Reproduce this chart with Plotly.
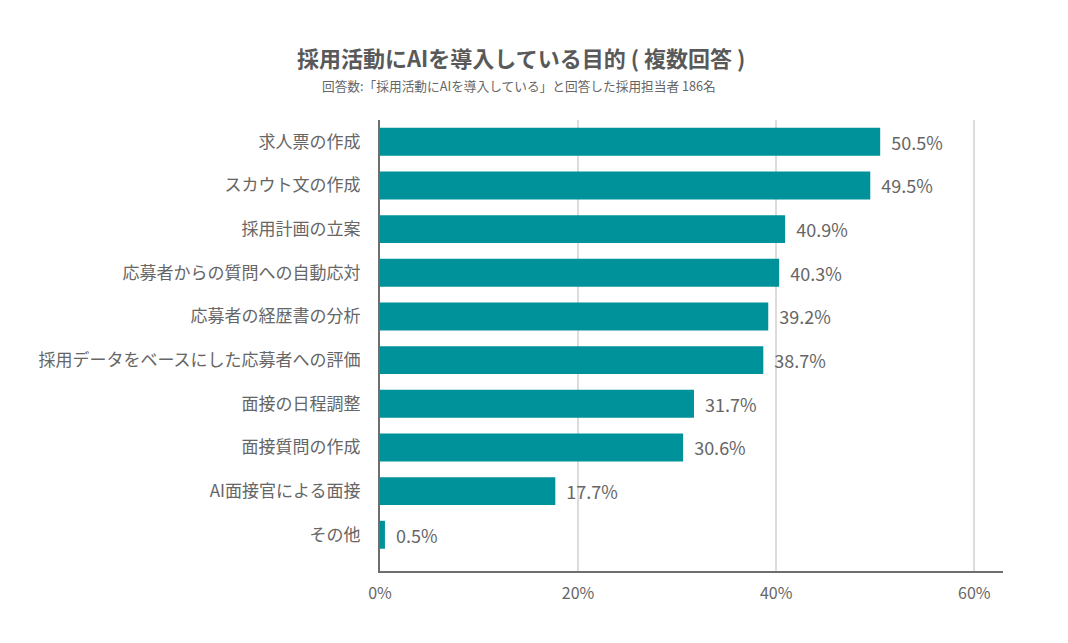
import plotly.graph_objects as go


# 回答数: 採用担当者 186名
cats = ['求人票の作成', 'スカウト文の作成', '採用計画の立案', '応募者からの質問への自動応対',
        '応募者の経歴書の分析', '採用データをベースにした応募者への評価', '面接の日程調整',
        '面接質問の作成', 'AI面接官による面接', 'その他']
vals = [50.5, 49.5, 40.9, 40.3, 39.2, 38.7, 31.7, 30.6, 17.7, 0.5]
xTicks = [0, 20, 40, 60]

font = 'Noto Sans CJK JP'; grey = '#666666'; teal = '#00929B'
W = 1068; H = 643


def main():
    fig = go.Figure()
    fig.add_trace(go.Bar(x=vals, y=cats, orientation='h', width=0.64, marker=dict(color=teal, line_width=0),
                         text=['\u00a0\u00a0{:.1f}%'.format(v) for v in vals], textposition='outside',
                         textfont=dict(size=18, color=grey, family=font), cliponaxis=False))

    fig.update_xaxes(range=[0, 62.9], tickvals=xTicks, ticktext=['{}%'.format(t) for t in xTicks],
                     showgrid=True, gridcolor='#dcdcdc', gridwidth=2, zeroline=False, automargin=False,
                     showline=True, linecolor='#6e6e6e', linewidth=2, ticks='outside', ticklen=7,
                     tickcolor='rgba(0,0,0,0)', tickfont=dict(size=16, color=grey))
    fig.update_yaxes(categoryorder='array', categoryarray=cats, range=[9.83, -0.5], automargin=False,
                     showline=True, linecolor='#6e6e6e', linewidth=2, ticks='outside', ticklen=14,
                     tickcolor='rgba(0,0,0,0)', tickfont=dict(size=17, color=grey))

    # title + subtitle, paper coords relative to plot area
    fig.add_annotation(text='<b>採用活動にAIを導入している目的 ( 複数回答 )</b>', x=0.2263, y=1.1397,
                       xref='paper', yref='paper', xanchor='center', yanchor='middle', showarrow=False,
                       font=dict(size=22, color='#595959', family=font))
    fig.add_annotation(text='回答数:「採用活動にAIを導入している」と回答した採用担当者 186名', x=0.2231, y=1.0776,
                       xref='paper', yref='paper', xanchor='center', yanchor='middle', showarrow=False,
                       font=dict(size=12.7, color=grey, family=font))

    fig.update_layout(width=W, height=H, margin=dict(l=372, r=73, t=112, b=80, autoexpand=False), bargap=0.36,
                      plot_bgcolor='white', paper_bgcolor='white', showlegend=False,
                      font=dict(family=font, color=grey))
    fig.write_html('out.html')


if __name__ == '__main__':
    main()
